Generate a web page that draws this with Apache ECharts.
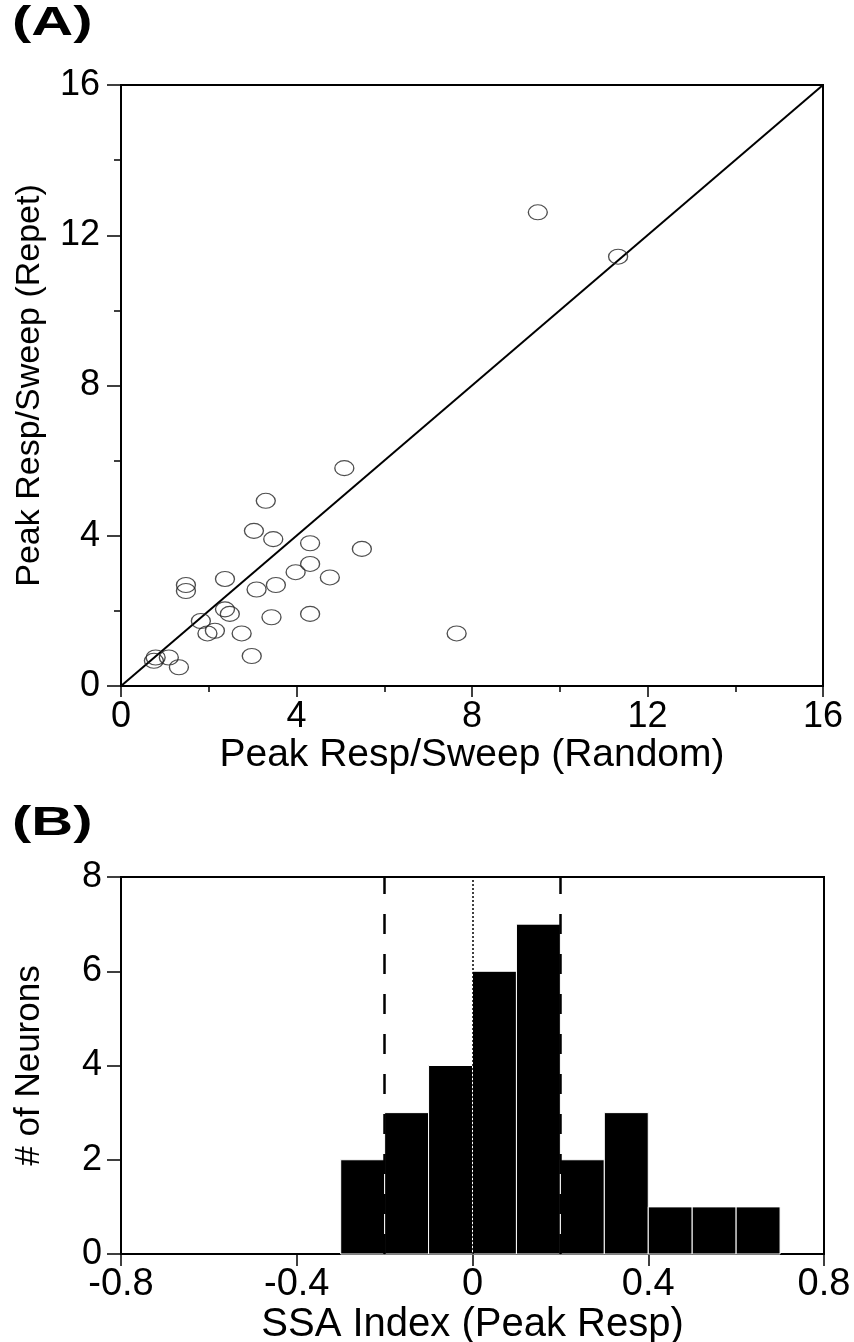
<!DOCTYPE html>
<html>
<head>
<meta charset="utf-8">
<script src="https://cdn.jsdelivr.net/npm/echarts@6/dist/echarts.min.js"></script>
<style>
  html, body { margin: 0; padding: 0; background: #fff; }
  #main { width: 854px; height: 1342px; }
</style>
</head>
<body>
<div id="main"></div>
<script>
// (A) peak response per sweep, random vs repetitive presentation
const randomResp = [5.09, 3.30, 3.03, 3.47, 4.31, 5.49, 4.31, 3.98, 4.76, 2.37,
  1.48, 1.48, 3.53, 3.09, 2.37, 2.48, 4.31, 3.43, 1.82, 2.14,
  1.97, 2.75, 2.98, 0.79, 0.75, 1.09, 1.32, 9.50, 11.33, 7.65]
const repetResp = [5.80, 4.93, 4.13, 3.91, 3.80, 3.65, 3.25, 3.03, 2.89, 2.85,
  2.69, 2.53, 2.69, 2.57, 2.04, 1.92, 1.92, 1.83, 1.73, 1.47,
  1.40, 1.40, 0.80, 0.76, 0.67, 0.76, 0.50, 12.61, 11.43, 1.40]
const unityLine = [0, 16]
const scatterTicks = [0, 4, 8, 12, 16]

// (B) SSA index histogram
const binStarts = [-0.3, -0.2, -0.1, 0, 0.1, 0.2, 0.3, 0.4, 0.5, 0.6]
const binCounts = [2, 3, 4, 6, 7, 2, 3, 1, 1, 1]
const binWidth = 0.1
const dashedMarks = [-0.2, 0.2]
const dottedMarks = [0]
const ssaTicks = [-0.8, -0.4, 0, 0.4, 0.8]
const countTicks = [0, 2, 4, 6, 8]

const FONT = 'Liberation Sans, Arial, Helvetica, sans-serif'
const black = '#000'

const chart = echarts.init(document.getElementById('main'), null, { renderer: 'canvas' })

function axisBase(extra) {
  return Object.assign({
    type: 'value',
    axisLine: { show: true, onZero: false, lineStyle: { color: black, width: 2 } },
    splitLine: { show: false },
    nameLocation: 'middle'
  }, extra)
}

function tick(len) {
  return { show: true, inside: false, length: len, lineStyle: { color: black, width: 1.5 } }
}

function label(size, margin) {
  return { color: black, fontSize: size, fontFamily: FONT, margin: margin }
}

function nameStyle(size) {
  return { color: black, fontSize: size, fontFamily: FONT }
}

function panelLabel(text, top) {
  return {
    type: 'text', x: 12, y: top, scaleX: 1.45,
    style: { text: text, font: 'bold 40px ' + FONT, fill: black, align: 'left', verticalAlign: 'top' }
  }
}

const option = {
  backgroundColor: '#fff',
  animation: false,
  graphic: [panelLabel('(A)', 4), panelLabel('(B)', 804)],
  grid: [
    { left: 121, right: 31, top: 85, height: 601, outerBoundsMode: 'none', show: true, borderColor: black, borderWidth: 2, backgroundColor: 'transparent' },
    { left: 121, right: 30, top: 877, height: 377, outerBoundsMode: 'none', show: true, borderColor: black, borderWidth: 2, backgroundColor: 'transparent' }
  ],
  xAxis: [
    axisBase({
      gridIndex: 0, min: scatterTicks[0], max: scatterTicks[scatterTicks.length - 1], interval: 4,
      name: 'Peak Resp/Sweep (Random)', nameGap: 46, nameTextStyle: nameStyle(39),
      axisTick: tick(11),
      minorTick: { show: true, splitNumber: 2, length: 6, lineStyle: { color: black, width: 1.5 } },
      axisLabel: label(36, 13)
    }),
    axisBase({
      gridIndex: 1, min: ssaTicks[0], max: ssaTicks[ssaTicks.length - 1], interval: 0.4,
      name: 'SSA Index (Peak Resp)', nameGap: 43, nameTextStyle: nameStyle(40),
      axisTick: tick(12),
      axisLabel: label(38, 12)
    })
  ],
  yAxis: [
    axisBase({
      gridIndex: 0, min: scatterTicks[0], max: scatterTicks[scatterTicks.length - 1], interval: 4,
      name: 'Peak Resp/Sweep (Repet)', nameGap: 74, nameRotate: 90, nameTextStyle: nameStyle(34),
      axisTick: tick(14),
      minorTick: { show: true, splitNumber: 2, length: 7, lineStyle: { color: black, width: 1.5 } },
      axisLabel: label(36, 21)
    }),
    axisBase({
      gridIndex: 1, min: countTicks[0], max: countTicks[countTicks.length - 1], interval: 2,
      name: '# of Neurons', nameGap: 74, nameRotate: 90, nameTextStyle: nameStyle(35),
      axisTick: tick(14),
      axisLabel: label(36, 19)
    })
  ],
  series: [
    {
      type: 'line',
      xAxisIndex: 0, yAxisIndex: 0,
      data: unityLine.map(v => [v, v]),
      showSymbol: false,
      symbol: 'none',
      lineStyle: { color: black, width: 2 },
      z: 3
    },
    {
      type: 'scatter',
      xAxisIndex: 0, yAxisIndex: 0,
      data: randomResp.map((x, i) => [x, repetResp[i]]),
      symbol: 'circle',
      symbolSize: [19, 15],
      itemStyle: { color: 'rgba(0,0,0,0)', borderColor: '#222', borderWidth: 1.2 },
      z: 4
    },
    {
      type: 'custom',
      xAxisIndex: 1, yAxisIndex: 1,
      data: binStarts.map((x, i) => [x, binCounts[i]]),
      renderItem: function (params, api) {
        const x0 = api.value(0)
        const count = api.value(1)
        const topLeft = api.coord([x0, count])
        const bottomRight = api.coord([x0 + binWidth, 0])
        return {
          type: 'rect',
          shape: {
            x: topLeft[0], y: topLeft[1],
            width: bottomRight[0] - topLeft[0],
            height: bottomRight[1] - topLeft[1]
          },
          style: { fill: black, stroke: '#fff', lineWidth: 1 }
        }
      },
      z: 3
    },
    {
      type: 'line',
      xAxisIndex: 1, yAxisIndex: 1,
      data: [],
      markLine: {
        silent: true,
        symbol: 'none',
        label: { show: false },
        data: dashedMarks.map(v => ({ xAxis: v, lineStyle: { color: black, width: 2.5, type: [20, 20] } }))
          .concat(dottedMarks.map(v => ({ xAxis: v, lineStyle: { color: black, width: 1.5, type: [2, 2] } })))
      },
      z: 2
    }
  ]
}

chart.setOption(option)
</script>
</body>
</html>
